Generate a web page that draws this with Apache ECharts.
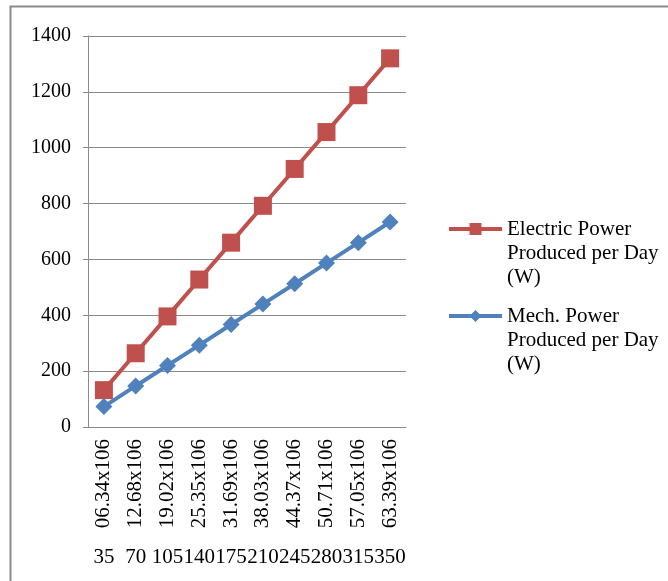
<!DOCTYPE html>
<html>
<head>
<meta charset="utf-8">
<script src="https://cdn.jsdelivr.net/npm/echarts@6/dist/echarts.min.js"></script>
<style>
  html, body { margin: 0; padding: 0; background: #fff; }
  #chart { width: 668px; height: 581px; }
</style>
</head>
<body>
<div id="chart"></div>
<script>
// x categories: flow label (rotated) and day value row
const flowLabels = ['06.34x106', '12.68x106', '19.02x106', '25.35x106', '31.69x106',
  '38.03x106', '44.37x106', '50.71x106', '57.05x106', '63.39x106'];
const dayLabels = ['35', '70', '105', '140', '175', '210', '245', '280', '315', '350'];

// series values
const electricPower = [132, 264, 396, 528, 660, 792, 924, 1056, 1188, 1320];
const mechPower = [73, 147, 220, 293, 367, 440, 513, 587, 660, 734];

const seriesNames = ['Electric Power\nProduced per Day\n(W)', 'Mech. Power\nProduced per Day\n(W)'];

const FONT = 'Liberation Serif';
const chart = echarts.init(document.getElementById('chart'));

// two blank lines on top so the icon lines up with the first text line
const legendBase = {
  orient: 'vertical',
  left: 447,
  padding: 0,
  itemWidth: 53,
  itemHeight: 15,
  formatter: name => '\n\n' + name,
  lineStyle: { width: 4 },
  textStyle: {
    fontFamily: FONT,
    fontSize: 21,
    color: '#000',
    lineHeight: 24
  }
};

chart.setOption({
  animation: false,
  backgroundColor: '#fff',
  graphic: [{
    type: 'polyline',
    shape: { points: [[10.5, 600], [10.5, 6.5], [700, 6.5]] },
    style: { fill: 'none', stroke: '#8a8a8a', lineWidth: 2 },
    silent: true
  }],
  legend: [
    Object.assign({}, legendBase, { top: 229 - 60, data: [seriesNames[0]] }),
    Object.assign({}, legendBase, { top: 316 - 60, data: [seriesNames[1]] })
  ],
  grid: { left: 88, right: 262, top: 36, bottom: 154 },
  xAxis: [{
    type: 'category',
    data: flowLabels,
    boundaryGap: true,
    axisLine: { lineStyle: { color: '#8a8a8a', width: 1 } },
    axisTick: { length: 144, interval: 0, lineStyle: { color: '#a6a6a6' } },
    axisLabel: {
      interval: 0, rotate: 90, margin: 12,
      fontFamily: FONT, fontSize: 21, color: '#000'
    }
  }, {
    type: 'category',
    data: dayLabels,
    position: 'bottom',
    offset: 112,
    axisLine: { show: false },
    axisTick: { show: false },
    axisLabel: {
      interval: 0, margin: 8,
      fontFamily: FONT, fontSize: 21, color: '#000'
    }
  }],
  yAxis: {
    type: 'value',
    min: 0, max: 1400, interval: 200,
    axisLine: { show: true, lineStyle: { color: '#8a8a8a' } },
    axisTick: { show: true, length: 5, lineStyle: { color: '#8a8a8a' } },
    splitLine: { lineStyle: { color: '#8a8a8a', width: 1 } },
    axisLabel: {
      margin: 17, fontFamily: FONT, fontSize: 20, color: '#000',
      formatter: v => String(v)
    }
  },
  series: [{
    name: seriesNames[0],
    type: 'line',
    data: electricPower,
    symbol: 'rect',
    symbolSize: 18,
    color: '#C0504D',
    lineStyle: { width: 4, color: '#C0504D' },
    itemStyle: { color: '#C0504D' },
    z: 2
  }, {
    name: seriesNames[1],
    type: 'line',
    data: mechPower,
    symbol: 'diamond',
    symbolSize: 17,
    color: '#4F81BD',
    lineStyle: { width: 4, color: '#4F81BD' },
    itemStyle: { color: '#4F81BD' },
    z: 3
  }]
});
</script>
</body>
</html>
